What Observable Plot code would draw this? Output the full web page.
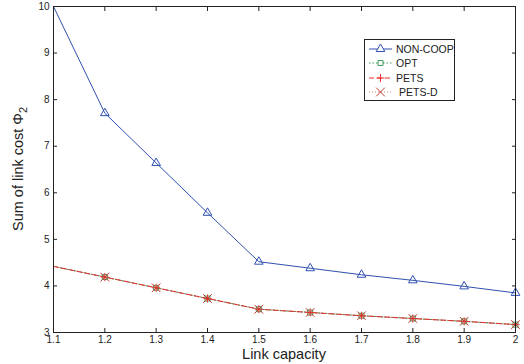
<!DOCTYPE html>
<html><head><meta charset="utf-8">
<script src="https://cdn.jsdelivr.net/npm/d3@7"></script>
<script src="https://cdn.jsdelivr.net/npm/@observablehq/plot@0.6"></script>
<style>
body{margin:0;background:#fff;font-family:"Liberation Sans",Arial,sans-serif;}
#wrap{position:relative;width:524px;height:364px;}
#legend{position:absolute;left:364px;top:39px;width:89px;height:60px;border:1px solid #222;background:#fff;font-size:10.5px;color:#222;}
#legend .row{position:absolute;left:0;height:14px;display:flex;align-items:center;}
#legend svg{display:block}
</style></head><body>
<div id="wrap"></div>
<script>
const capacity = [1.1, 1.2, 1.3, 1.4, 1.5, 1.6, 1.7, 1.8, 1.9, 2.0];
const nonCoop = [10.0, 7.71, 6.64, 5.57, 4.52, 4.38, 4.24, 4.12, 3.99, 3.85];
const opt     = [4.42, 4.19, 3.96, 3.73, 3.50, 3.43, 3.36, 3.30, 3.24, 3.17];
const pets    = [4.42, 4.19, 3.96, 3.73, 3.50, 3.43, 3.36, 3.30, 3.24, 3.17];
const petsD   = [4.42, 4.19, 3.96, 3.73, 3.50, 3.43, 3.36, 3.30, 3.24, 3.17];
const xTicks = [1.1, 1.2, 1.3, 1.4, 1.5, 1.6, 1.7, 1.8, 1.9, 2];
const yTicks = [3, 4, 5, 6, 7, 8, 9, 10];
const seriesNames = ["NON-COOP", "OPT", "PETS", "PETS-D"];

const C = {blue:"#3050b2", green:"#3c9a5c", red:"#ee3030", dred:"#c0392b"};
const R = {triangle: 3.2, square: 2.8, plus: 2.7, times: 4.0};
const rows = (ys) => capacity.map((x,i)=>({x, y: ys[i]}));
const mk = (ys) => rows(ys).filter(d => d.x > 1.1);

const chart = Plot.plot({
  width: 524, height: 364,
  marginLeft: 53, marginRight: 9, marginTop: 6, marginBottom: 32,
  style: {fontFamily: "'Liberation Sans', Arial, sans-serif", fontSize: "10px", color: "#222", background: "#fff"},
  x: {domain: [1.1, 2], label: null},
  y: {domain: [3, 10], label: null},
  marks: [
    Plot.axisX(xTicks, {anchor: "bottom", tickSize: 0, tickPadding: 3, tickFormat: d => String(d), fill: "#222"}),
    Plot.axisY(yTicks, {anchor: "left", tickSize: 0, tickPadding: 4, tickFormat: d => String(d), fill: "#222"}),
    Plot.axisX(xTicks, {anchor: "bottom", tickSize: 4, text: null, dy: -4, stroke: "#222"}),
    Plot.axisX(xTicks, {anchor: "top", tickSize: 4, text: null, dy: 4, stroke: "#222"}),
    Plot.axisY(yTicks, {anchor: "left", tickSize: 4, text: null, dx: 4, stroke: "#222"}),
    Plot.axisY(yTicks, {anchor: "right", tickSize: 4, text: null, dx: -4, stroke: "#222"}),
    Plot.line(rows(nonCoop), {x: "x", y: "y", stroke: C.blue, strokeWidth: 1}),
    Plot.line(rows(opt), {x: "x", y: "y", stroke: C.green, strokeWidth: 1, strokeDasharray: "1.5,2"}),
    Plot.line(rows(pets), {x: "x", y: "y", stroke: C.red, strokeWidth: 1, strokeDasharray: "5,3"}),
    Plot.line(rows(petsD), {x: "x", y: "y", stroke: C.dred, strokeWidth: 0.8, strokeDasharray: "1,2", strokeOpacity: 0.6}),
    Plot.dot(mk(nonCoop), {x: "x", y: "y", symbol: "triangle", r: R.triangle, stroke: C.blue, fill: "none", strokeWidth: 1}),
    Plot.dot(mk(opt), {x: "x", y: "y", symbol: "square", r: R.square, stroke: C.green, fill: "none", strokeWidth: 1}),
    Plot.dot(mk(pets), {x: "x", y: "y", symbol: "plus", r: R.plus, stroke: C.red, strokeWidth: 1}),
    Plot.dot(mk(petsD), {x: "x", y: "y", symbol: "times", r: R.times, stroke: C.dred, strokeWidth: 1}),
    Plot.frame({stroke: "#222", strokeWidth: 1})
  ]
});
const wrap = document.getElementById("wrap");
wrap.appendChild(chart);

const svg = d3.select(chart);
svg.append("text").attr("x", 284).attr("y", 359).attr("text-anchor", "middle")
  .attr("font-size", 14.5).attr("fill", "#222").text("Link capacity");
const yl = svg.append("text").attr("transform", "translate(23,169) rotate(-90)").attr("text-anchor", "middle")
  .attr("font-size", 14.5).attr("fill", "#222");
yl.append("tspan").text("Sum of link cost Φ");
yl.append("tspan").attr("dy", 4).attr("font-size", 11).text("2");

// legend
const leg = document.createElement("div");
leg.id = "legend";
wrap.appendChild(leg);
const legendStyles = [
  {color: C.blue, dash: null, sym: "triangle", textX: 31},
  {color: C.green, dash: "1.5,2", sym: "square", textX: 31},
  {color: C.red, dash: "5,3", sym: "plus", textX: 31},
  {color: C.dred, dash: "1,2", sym: "times", textX: 34}
];
const symMap = {triangle: d3.symbolTriangle, square: d3.symbolSquare, plus: d3.symbolPlus, times: d3.symbolTimes};
seriesNames.forEach((name, i) => {
  const st = legendStyles[i];
  const row = document.createElement("div");
  row.className = "row";
  row.style.top = (2 + i * 14.3) + "px";
  const s = d3.create("svg").attr("width", st.textX).attr("height", 14);
  s.append("line").attr("x1", 4).attr("x2", 27).attr("y1", 7).attr("y2", 7)
    .attr("stroke", st.color).attr("stroke-width", 1).attr("stroke-dasharray", st.dash).attr("stroke-opacity", i === 3 ? 0.6 : 1);
  const r = R[st.sym];
  const fillSym = st.sym === "triangle" || st.sym === "square";
  s.append("path").attr("transform", "translate(15.5,7)")
    .attr("d", d3.symbol(symMap[st.sym], Math.PI * r * r)())
    .attr("fill", fillSym ? "#fff" : "none").attr("stroke", st.color).attr("stroke-width", 1);
  row.appendChild(s.node());
  const t = document.createElement("span");
  t.textContent = name;
  row.appendChild(t);
  leg.appendChild(row);
});
</script>
</body></html>
